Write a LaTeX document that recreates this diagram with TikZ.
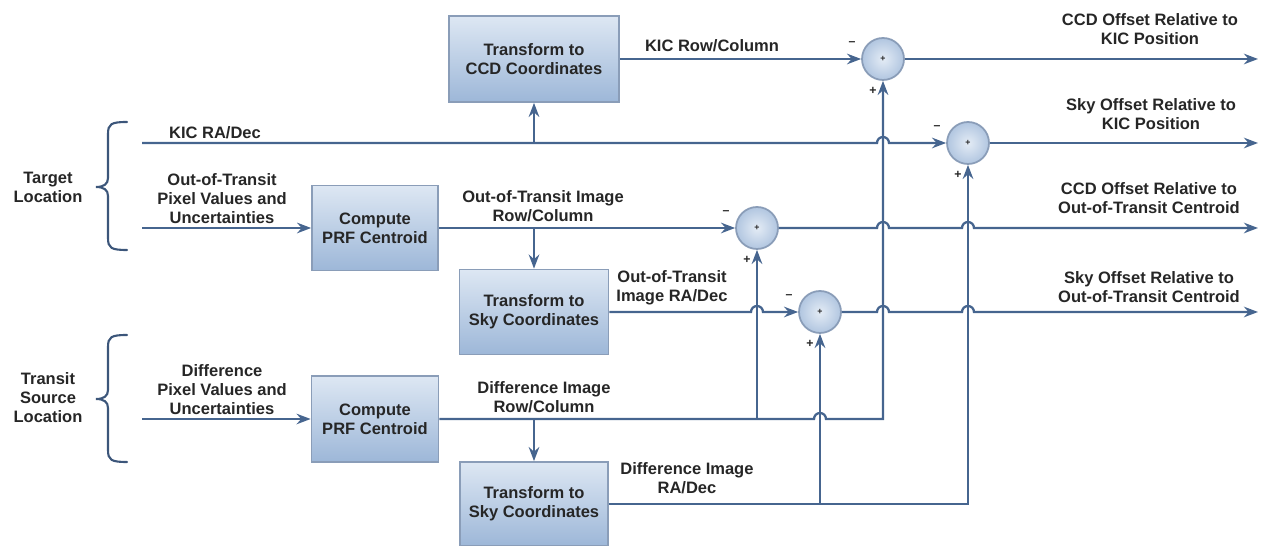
\documentclass[tikz,border=0pt]{standalone}
\usepackage{fontspec}
\setmainfont{Liberation Sans}
\usetikzlibrary{arrows.meta}
\usetikzlibrary{calc}

\definecolor{wirecol}{HTML}{46658F}
\definecolor{rimcol}{HTML}{8A9DB8}
\definecolor{boxtop}{HTML}{DDE7F3}
\definecolor{boxbot}{HTML}{9DB7D8}
\definecolor{ink}{HTML}{262626}

\begin{document}
\begin{tikzpicture}[x=0.02cm, y=-0.02cm, text=ink,
  font=\fontsize{9.4}{10.8}\selectfont\bfseries,
  block/.style={draw=rimcol, line width=1pt, top color=boxtop, bottom color=boxbot, align=center, inner sep=0pt},
  sum/.style={circle, draw=rimcol, line width=1pt, inner color=boxtop!80!white, outer color=boxbot!80!white, minimum size=0.84cm, inner sep=0pt, font=\tiny\bfseries},
  wire/.style={draw=wirecol, line width=1.3pt},
  feed/.style={wire, -{Stealth[length=8pt, width=6pt]}},
  brc/.style={draw=wirecol!85!black, line width=1.2pt, line cap=round},
  lbl/.style={align=center},
  sgn/.style={font=\scriptsize\bfseries}]

 \useasboundingbox (0,0) rectangle (1262,546);

 \def\r{6}

 %blocks
 \node[block, minimum width=3.4cm, minimum height=1.72cm] (B1) at (534,59) {Transform to\\CCD Coordinates};
 \node[block, minimum width=2.52cm, minimum height=1.7cm] (B2) at (375,228) {Compute\\PRF Centroid};
 \node[block, minimum width=2.98cm, minimum height=1.7cm] (B3) at (534,312) {Transform to\\Sky Coordinates};
 \node[block, minimum width=2.54cm, minimum height=1.72cm] (B4) at (375,419) {Compute\\PRF Centroid};
 \node[block, minimum width=2.96cm, minimum height=1.68cm] (B5) at (534,504) {Transform to\\Sky Coordinates};

 %summing points
 \foreach \name/\x/\y in {1/883/59, 2/968/143, 3/757/228, 4/820/312} {
         \node[sum] (S\name) at (\x,\y) {+};
         \node[sgn] at (\x-31,\y-15) {--};
         \node[sgn] at (\x-10,\y+32) {+};
 }

 %free ends
 \coordinate (I1) at (142,143);
 \coordinate (I2) at (142,228);
 \coordinate (I3) at (142,419);
 \coordinate (O1) at (1258,59);
 \coordinate (O2) at (1258,143);
 \coordinate (O3) at (1258,228);
 \coordinate (O4) at (1258,312);

 %target
 \draw[feed] (I1) -- (883-\r,143) arc[start angle=180, end angle=360, radius=\r] -- (S2.west);
 \draw[feed] (B1.south |- I1) -- (B1.south);
 \draw[feed] (B1.east) -- (S1.west);
 \draw[feed] (I2) -- (B2.west);
 \draw[feed] (B2.east) -- (S3.west);
 \draw[feed] (B3.north |- B2.east) -- (B3.north);
 \draw[feed] (B3.east) -- (757-\r,312) arc[start angle=180, end angle=360, radius=\r] -- (S4.west);

 %transit source
 \draw[feed] (I3) -- (B4.west);
 \draw[feed] (B4.east) -- (820-\r,419) arc[start angle=180, end angle=360, radius=\r] -- (S1.south |- B4.east) -- (S1.south);
 \draw[feed] (S3.south |- B4.east) -- (S3.south);
 \draw[feed] (B5.north |- B4.east) -- (B5.north);
 \draw[feed] (B5.east) -- (S2.south |- B5.east) -- (S2.south);
 \draw[feed] (S4.south |- B5.east) -- (S4.south);

 %outputs
 \draw[feed] (S1.east) -- (O1);
 \draw[feed] (S2.east) -- (O2);
 \draw[feed] (S3.east) -- (883-\r,228) arc[start angle=180, end angle=360, radius=\r]
        -- (968-\r,228) arc[start angle=180, end angle=360, radius=\r] -- (O3);
 \draw[feed] (S4.east) -- (883-\r,312) arc[start angle=180, end angle=360, radius=\r]
        -- (968-\r,312) arc[start angle=180, end angle=360, radius=\r] -- (O4);

 %braces
 \foreach \t/\m/\b in {122/187/250, 335/399/462} {
         \draw[brc] (127,\t) .. controls (111,\t) and (108,\t+2) .. (108,\t+12)
                -- (108,\m-9) .. controls (108,\m-3) and (104,\m) .. (96,\m)
                .. controls (104,\m) and (108,\m+3) .. (108,\m+9)
                -- (108,\b-12) .. controls (108,\b-2) and (111,\b) .. (127,\b);
 }

 %labels
 \node[lbl] (G1) at (48,187) {Target\\Location};
 \node[lbl] (G2) at (48,398) {Transit\\Source\\Location};
 \node[lbl] (L1) at (712,46) {KIC Row/Column};
 \node[lbl] (L2) at (215,133) {KIC RA/Dec};
 \node[lbl] (L3) at (222,199) {Out-of-Transit\\Pixel Values and\\Uncertainties};
 \node[lbl] (L4) at (543,206) {Out-of-Transit Image\\Row/Column};
 \node[lbl] (L5) at (672,288) {Out-of-Transit\\Image RA/Dec};
 \node[lbl] (L6) at (222,390) {Difference\\Pixel Values and\\Uncertainties};
 \node[lbl] (L7) at (544,397) {Difference Image\\Row/Column};
 \node[lbl] (L8) at (687,478) {Difference Image\\RA/Dec};
 \node[lbl] (L9) at (1150,29) {CCD Offset Relative to\\KIC Position};
 \node[lbl] (L10) at (1151,114) {Sky Offset Relative to\\KIC Position};
 \node[lbl] (L11) at (1149,198) {CCD Offset Relative to\\Out-of-Transit Centroid};
 \node[lbl] (L12) at (1149,287) {Sky Offset Relative to\\Out-of-Transit Centroid};

\end{tikzpicture}
\end{document}
